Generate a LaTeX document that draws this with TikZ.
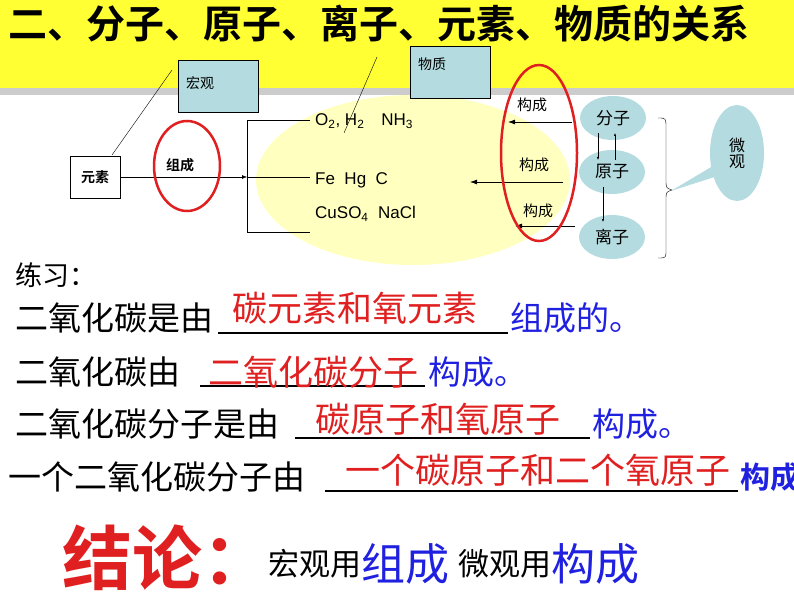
\documentclass[tikz,border=0pt]{standalone}
\usepackage{fontspec}
\setmainfont{Liberation Sans}
\newfontfamily\cjk{Noto Sans CJK SC}
\newfontfamily\cjkb{Noto Sans CJK SC Bold}
\newcommand{\fs}[1]{\fontsize{#1}{#1}\selectfont}
\definecolor{banner}{HTML}{FFFF33}
\definecolor{paleblue}{HTML}{B4DCE0}
\definecolor{paleyellow}{HTML}{FFFFC0}
\definecolor{inkred}{HTML}{E02020}
\definecolor{inkblue}{HTML}{2020E0}
\tikzset{
  tagbox/.style={draw,thin,fill=paleblue,minimum width=80pt,minimum height=52pt,inner sep=4pt},
  ball/.style={ellipse,fill=paleblue,minimum width=66pt,minimum height=44pt,inner sep=0pt},
  formula/.style={anchor=west,inner sep=0pt,font=\fs{17}},
  redring/.style={draw=inkred,line width=2.5pt},
  lbl/.style={anchor=west,inner sep=0pt,font=\cjk\fs{33}},
  ans/.style={anchor=west,inner sep=0pt,text=inkred,font=\cjk\fs{35}},
  verb/.style={anchor=west,inner sep=0pt,text=inkblue,font=\cjk\fs{33}},
  blank/.style={line width=1.6pt}
}
\usetikzlibrary{shapes.geometric,arrows.meta,positioning}
\begin{document}
\begin{tikzpicture}[x=1pt,y=-1pt]
  \useasboundingbox (0,0) rectangle (794,596);
  % banner
  \fill[gray!40] (0,88) rectangle (794,95);
  \fill[banner] (0,0) rectangle (794,88);
  \node[anchor=west,inner sep=0pt,font=\cjkb\fs{39}] (title) at (8,24) {二、分子、原子、离子、元素、物质的关系};
  % diagram
  \fill[paleyellow] (413,180) ellipse (157 and 85);
  \node[tagbox,anchor=north west] (hong) at (178,60) {};
  \node[anchor=north west,font=\cjk\fs{14},inner sep=0pt] at (186,76) {宏观};
  \node[tagbox,anchor=north west] (wuzhi) at (410,46) {};
  \node[anchor=north west,font=\cjk\fs{14},inner sep=0pt] at (418,58) {物质};
  \node[draw,thick,fill=white,minimum width=50pt,minimum height=42pt,font=\cjkb\fs{14}] (yuansu) at (95,177) {元素};
  \draw (172,70) -- (112,155);
  \draw (377,57) -- (344,133);
  \draw[-{Latex[length=5pt]}] (yuansu.east) -- (247,177) coordinate (bmid);
  \draw[thick] (310,120) -- (247,120) -- (247,232) -- (310,232);
  \draw[thick] (bmid) -- (310,177);
  \node[font=\cjkb\fs{14}] (zucheng) at (180,165) {组成};
  \draw[redring] (187,166) ellipse (33 and 45);
  \node[formula] (f1) at (315,121) {O\textsubscript{2}, H\textsubscript{2}\quad NH\textsubscript{3}};
  \node[formula] (f2) at (315,180) {Fe\ \ Hg\ \ C};
  \node[formula] (f3) at (315,214) {CuSO\textsubscript{4}\ \ NaCl};
  \node[ball] (fenzi) at (613,118) {\cjk\fs{17}分子};
  \node[ball] (yuanzi) at (612,172) {\cjk\fs{17}原子};
  \node[ball] (lizi) at (612,237) {\cjk\fs{17}离子};
  \draw[-{Latex[length=3pt]}] (598,133) -- (598,160);
  \draw[-{Latex[length=3pt]}] (615,160) -- (615,133);
  \draw[-{Latex[length=3pt]}] (603,187) -- (603,222);
  \node[font=\cjk\fs{15}] (g1) at (532,105) {构成};
  \node[font=\cjk\fs{15}] (g2) at (534,165) {构成};
  \node[font=\cjk\fs{15}] (g3) at (538,211) {构成};
  \draw[thick,-{Latex[length=7pt,width=5pt]}] (572,122) -- (508,122);
  \draw[thick,-{Latex[length=7pt,width=5pt]}] (563,182) -- (470,182);
  \draw[thick,-{Latex[length=7pt,width=5pt]}] (575,226) -- (515,226);
  \draw[redring] (539,153) ellipse (38 and 88);
  % brace and callout
  \draw (658,118) .. controls (666,118) .. (666,128) -- (666,180) .. controls (666,188) .. (672,190)
        .. controls (666,192) .. (666,200) -- (666,250) .. controls (666,258) .. (658,258);
  \fill[paleblue,draw=paleblue] (673,190) -- (715,165) -- (720,175) -- cycle;
  \node[ellipse,fill=paleblue,minimum width=54pt,minimum height=96pt,inner sep=0pt,align=center,font=\cjk\fs{16}] (weiguan) at (737,153) {微\\观};
  % exercises
  \node[anchor=west,inner sep=0pt,font=\cjk\fs{27}] (lianxi) at (15,275) {练习：};
  \node[lbl] (q1) at (15,318) {二氧化碳是由};
  \draw[blank] (218,333) -- (508,333);
  \node[ans] at (232,308) {碳元素和氧元素};
  \node[verb] at (510,318) {组成的。};
  \node[lbl] (q2) at (15,372) {二氧化碳由};
  \draw[blank] (200,386) -- (425,386);
  \node[ans] at (208,372) {二氧化碳分子};
  \node[verb] at (428,372) {构成。};
  \node[lbl] (q3) at (15,424) {二氧化碳分子是由};
  \draw[blank] (295,438) -- (590,438);
  \node[ans] at (315,419) {碳原子和氧原子};
  \node[verb] at (592,424) {构成。};
  \node[lbl] (q4) at (8,477) {一个二氧化碳分子由};
  \draw[blank] (325,491) -- (738,491);
  \node[ans] at (345,470) {一个碳原子和二个氧原子};
  \node[verb,font=\cjkb\fs{30}] at (740,477) {构成};
  % conclusion
  \node[anchor=west,inner sep=0pt,text=inkred,font=\cjkb\fs{70}] (jielun) at (62,558) {结论：};
  \node[anchor=west,inner sep=0pt,font=\cjk\fs{31}] (m1) at (268,564) {宏观用};
  \node[anchor=west,inner sep=0pt,text=inkblue,font=\cjk\fs{44}] (m2) at (m1.east) {组成};
  \node[anchor=west,inner sep=0pt,font=\cjk\fs{31}] (m3) at ([xshift=8pt]m2.east) {微观用};
  \node[anchor=west,inner sep=0pt,text=inkblue,font=\cjk\fs{44}] (m4) at (m3.east) {构成};
\end{tikzpicture}
\end{document}
